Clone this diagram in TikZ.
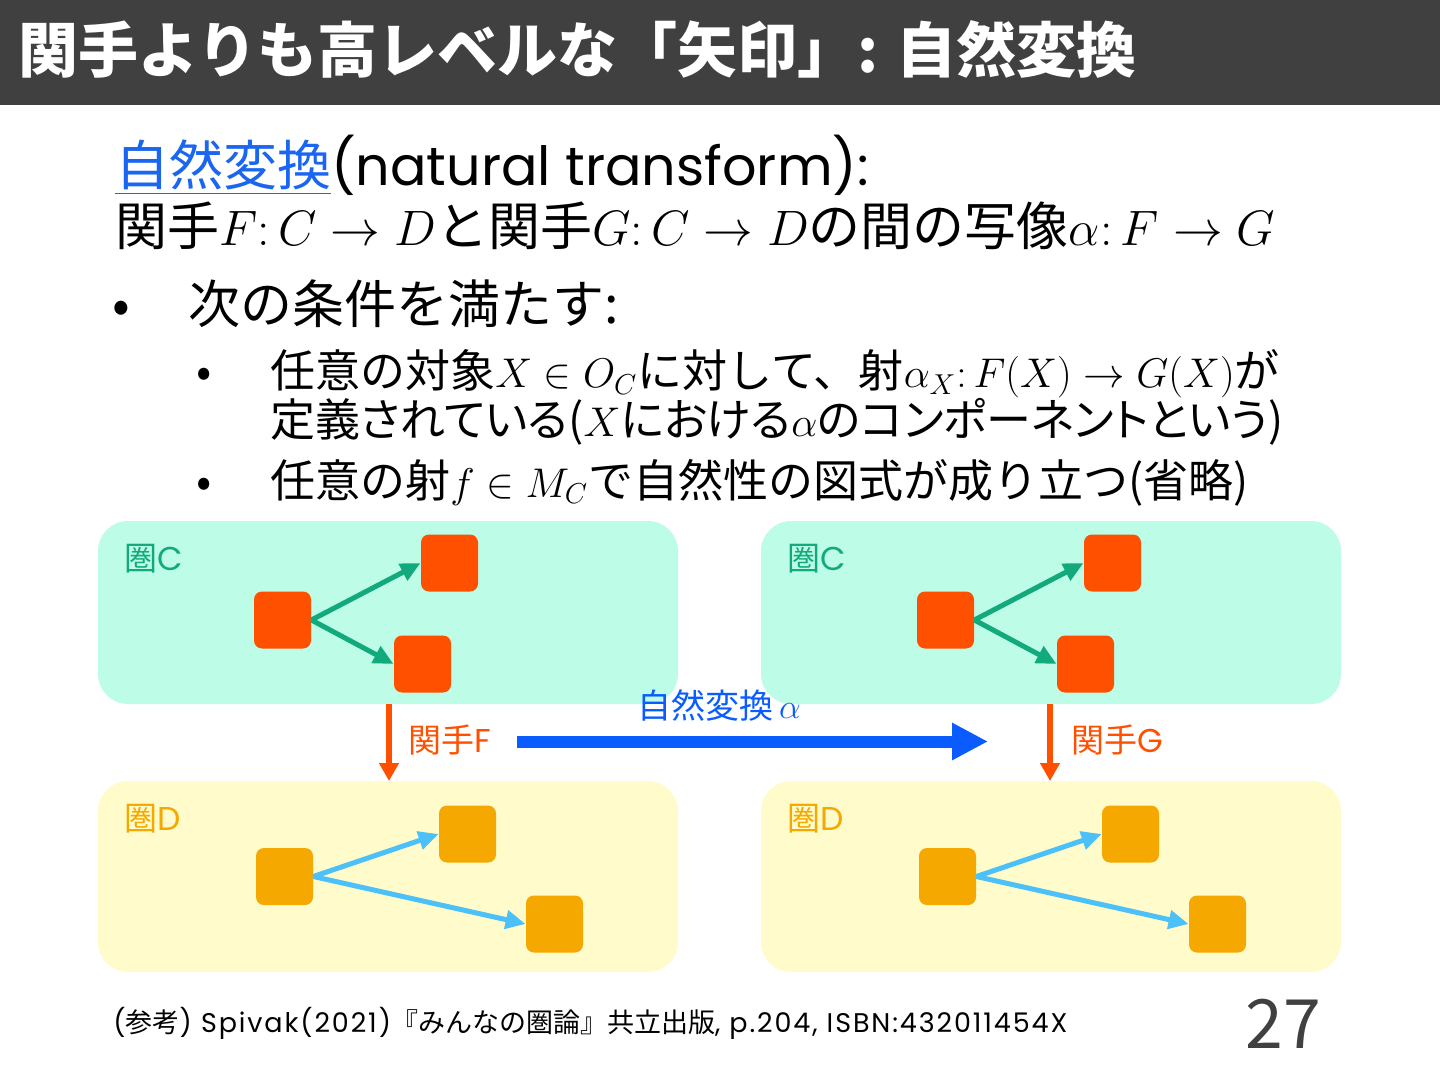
\documentclass[tikz,border=0pt]{standalone}
\usepackage{fontspec}
\setmainfont{Noto Sans CJK JP}
\newfontfamily\latinfont{Poppins}
\newfontfamily\latinwide[LetterSpace=7]{Poppins}
\usetikzlibrary{arrows.meta}
\definecolor{titlegray}{HTML}{404040}
\definecolor{linkblue}{HTML}{1A66F0}
\definecolor{mint}{HTML}{BDFCE7}
\definecolor{catgreen}{HTML}{12AA7C}
\definecolor{objred}{HTML}{FF5000}
\definecolor{paleyellow}{HTML}{FFFBCB}
\definecolor{objorange}{HTML}{F5A800}
\definecolor{skyblue}{HTML}{4CC0F8}
\definecolor{natblue}{HTML}{0A5CFF}
\newcommand\slidetitle{\fontsize{30}{36}\selectfont\bfseries}
\newcommand\slidebody{\fontsize{26}{31}\selectfont}
\newcommand\slidesub{\fontsize{22.5}{27}\selectfont}
\newcommand\slidelabel{\fontsize{16.5}{20}\selectfont}
\newcommand\lat[1]{{\latinfont #1}}
\newcommand\latw[1]{{\latinwide #1}}
\begin{document}
\begin{tikzpicture}[x=0.5pt,y=-0.5pt,
  txt/.style={anchor=base west,inner sep=0pt},
  obj/.style={rounded corners=4pt,minimum size=28.5pt,inner sep=0pt},
  catbox/.style={rounded corners=15pt},
  carrow/.style={catgreen,line width=2.5pt,-{Triangle[length=10pt,width=9pt]}},
  darrow/.style={skyblue,line width=2.5pt,-{Triangle[length=10pt,width=9pt]}},
  farrow/.style={objred,line width=3pt,-{Triangle[length=9pt,width=9.5pt]}},
  narrow/.style={natblue,line width=6pt,-{Triangle[length=18pt,width=17.5pt]}}]
\useasboundingbox (0,0) rectangle (1440,1080);
% title bar
\fill[titlegray] (0,0) rectangle (1440,105);
\node[txt,text=white,font=\slidetitle] (title) at (18,73) {関手よりも高レベルな「矢印」: 自然変換};
% definition
\node[txt,text depth=0pt,font=\fontsize{27}{32}\selectfont] (def) at (115,186) {\textcolor{linkblue}{\underline{自然変換}}\lat{(natural transform):}};
\node[txt,font=\slidebody] (maps) at (115,246) {関手$F\colon C\rightarrow D$と関手$G\colon C\rightarrow D$の間の写像$\alpha\colon F\rightarrow G$};
\node[txt,font=\slidebody] (dot1) at (112,324) {•};
\node[txt,font=\slidebody] (cond) at (188,324) {次の条件を満たす:};
\node[txt,font=\slidesub] (dot2) at (196,388) {•};
\node[txt,font=\slidesub] (compa) at (270,388) {任意の対象$X\in O_C$に対して、射$\alpha_X\colon F(X)\rightarrow G(X)$が};
\node[txt,font=\slidesub\addfontfeatures{RawFeature=+palt}] (compb) at (270,437) {定義されている($X$における$\alpha$のコンポーネントという)};
\node[txt,font=\slidesub] (dot3) at (196,497) {•};
\node[txt,font=\slidesub] (natur) at (270,497) {任意の射$f\in M_C$で自然性の図式が成り立つ(省略)};
% categories
\fill[mint,catbox] (98,521) rectangle (678,704);
\fill[mint,catbox] (761,521) rectangle (1341,704);
\fill[paleyellow,catbox] (98,781) rectangle (678,972);
\fill[paleyellow,catbox] (761,781) rectangle (1341,972);
\node[txt,text=catgreen,font=\slidelabel] (catCl) at (124,570) {圏\lat{C}};
\node[txt,text=catgreen,font=\slidelabel] (catCr) at (787,570) {圏\lat{C}};
\node[txt,text=objorange,font=\slidelabel] (catDl) at (124,830) {圏\lat{D}};
\node[txt,text=objorange,font=\slidelabel] (catDr) at (787,830) {圏\lat{D}};
% objects of C
\node[obj,fill=objred] (ca) at (282.5,620) {};
\node[obj,fill=objred] (cb) at (449.5,563) {};
\node[obj,fill=objred] (cc) at (422.5,664) {};
\node[obj,fill=objred] (ca') at (945.5,620) {};
\node[obj,fill=objred] (cb') at (1112.5,563) {};
\node[obj,fill=objred] (cc') at (1085.5,664) {};
\draw[carrow] (ca.east) -- (cb.west);
\draw[carrow] (ca.east) -- (cc.west);
\draw[carrow] (ca'.east) -- (cb'.west);
\draw[carrow] (ca'.east) -- (cc'.west);
% objects of D
\node[obj,fill=objorange] (da) at (284.5,876.5) {};
\node[obj,fill=objorange] (db) at (467.5,834) {};
\node[obj,fill=objorange] (dc) at (554.5,924) {};
\node[obj,fill=objorange] (da') at (947.5,876.5) {};
\node[obj,fill=objorange] (db') at (1130.5,834) {};
\node[obj,fill=objorange] (dc') at (1217.5,924) {};
\draw[darrow] (da.east) -- (db.west);
\draw[darrow] (da.east) -- (dc.west);
\draw[darrow] (da'.east) -- (db'.west);
\draw[darrow] (da'.east) -- (dc'.west);
% functors and the transformation
\coordinate (fsrc) at (389,704);
\coordinate (ftgt) at (389,781);
\coordinate (gsrc) at (1050,704);
\coordinate (gtgt) at (1050,781);
\coordinate (nsrc) at (517,741.5);
\coordinate (ntgt) at (988,741.5);
\draw[farrow] (fsrc) -- (ftgt);
\draw[farrow] (gsrc) -- (gtgt);
\draw[narrow] (nsrc) -- (ntgt);
\node[txt,text=objred,font=\slidelabel] (funF) at (408,752) {関手\lat{F}};
\node[txt,text=objred,font=\slidelabel] (funG) at (1071,752) {関手\lat{G}};
\node[txt,text=natblue,font=\fontsize{17}{20}\selectfont] (alpha) at (637,718) {自然変換\,$\alpha$};
% footer
\node[txt,font=\fontsize{13.5}{16}\selectfont] (ref) at (113,1032) {\lat{(}参考\latw{) Spivak(2021)}『みんなの圏論』共立出版\latw{, p.204, ISBN:432011454X}};
\node[txt,text=titlegray,font=\fontsize{34}{40}\selectfont] (page) at (1245,1048) {27};
\end{tikzpicture}
\end{document}
